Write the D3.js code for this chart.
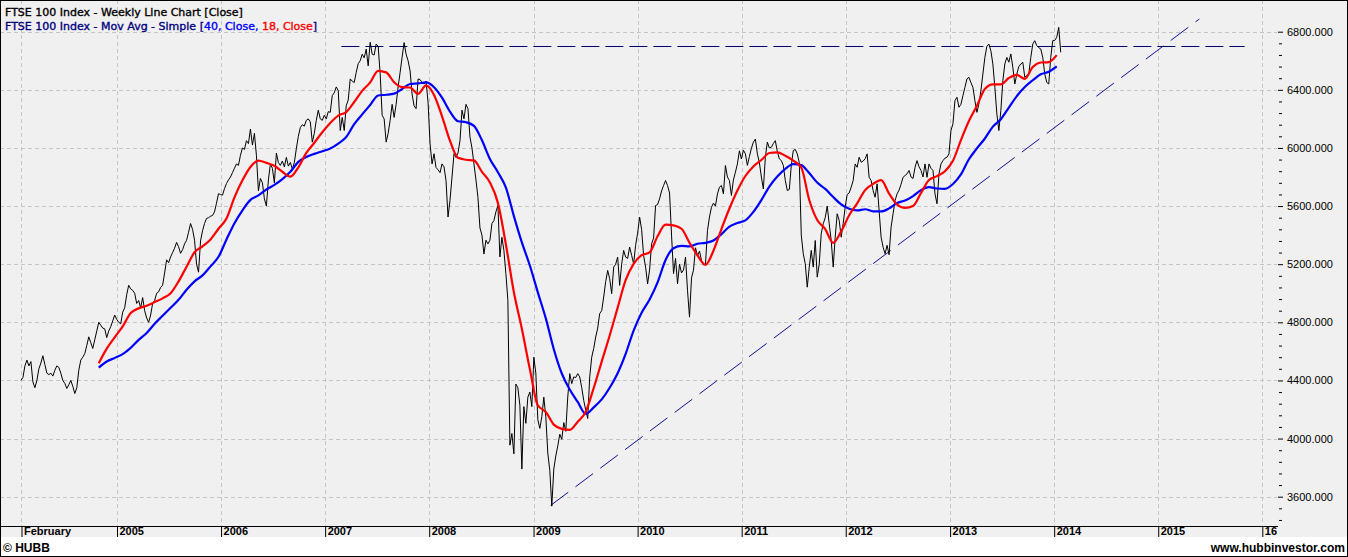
<!DOCTYPE html>
<html>
<head>
<meta charset="utf-8">
<script src="https://cdn.jsdelivr.net/npm/d3@7"></script>
<style>
  body { margin: 0; background: #fff; }
  svg { display: block; }
  text { white-space: pre; }
</style>
</head>
<body>
<svg id="chart" width="1348" height="557"></svg>
<script>
// FTSE 100 weekly closes, one value per week, first week ends 2004-01-30
const firstWeek = "2004-01-30";
const close2004 = [4400,4420,4500,4540,4500,4530,4390,4350,4400,4480,4520,4570,4510,4450,4440,4450,4430,4470,4500,4490,4450,4400,4380,4345,4370,4400,4360,4310,4350,4470,4540,4560,4585,4640,4700,4660,4620,4680,4740,4800,4780,4760,4755,4695,4740,4770,4810,4850,4820];
const close2005 = [4800,4790,4870,4900,4990,5055,5030,5020,5000,4930,4950,4900,4970,4880,4830,4800,4850,4930,4950,5000,5010,5040,5055,5140,5230,5210,5250,5280,5310,5350,5320,5275,5300,5340,5365,5420,5480,5440,5365,5200,5145,5360,5430,5480,5515,5520,5530,5535,5560,5620,5685,5680];
const close2006 = [5675,5720,5755,5780,5800,5830,5860,5890,5880,5950,6000,5990,6050,6030,6130,6020,6100,5950,5705,5790,5760,5650,5600,5780,5890,5860,5760,5965,5900,5880,5910,5870,5935,5875,5900,5855,5900,5995,6080,6140,6160,6150,6190,6200,6180,6040,6100,6190,6260,6200,6190,6225];
const close2007 = [6200,6250,6245,6360,6380,6420,6395,6120,6210,6120,6290,6330,6475,6460,6450,6520,6580,6600,6645,6620,6680,6565,6727,6645,6640,6715,6700,6510,6225,6200,6040,6100,6190,6300,6210,6300,6420,6520,6625,6725,6645,6600,6530,6370,6290,6270,6475,6470,6450,6440,6460,6315];
const close2008 = [6030,5890,5960,5865,5850,5830,5890,5870,5775,5525,5640,5800,5960,5935,5965,6050,6260,6200,6300,6270,6075,6000,5890,5780,5660,5450,5400,5270,5365,5340,5365,5480,5500,5560,5605,5250,5385,5295,5135,4950,3955,4035,3895,4375,4350,4230,3790,4220,4105,4285,4320,4220];
const close2009 = [4560,4450,4130,4070,4150,4285,4150,3900,3780,3535,3790,3880,3950,4030,3995,4110,4050,4286,4447,4378,4424,4420,4447,4424,4350,4263,4195,4138,4424,4560,4620,4699,4760,4860,4880,4974,5080,5157,5100,4997,5180,5200,5249,5054,5200,5295,5249,5240,5318,5261,5203,5330];
const close2010 = [5413,5524,5440,5260,5180,5065,5160,5340,5380,5604,5610,5650,5704,5741,5776,5741,5690,5400,5135,5240,5065,5200,5140,5160,5249,5020,4836,5106,5159,5313,5258,5290,5226,5195,5201,5432,5524,5592,5620,5600,5684,5730,5742,5684,5879,5800,5776,5673,5780,5833,5890,5980,5924];
const close2011 = [5985,5960,5880,5940,5997,6040,6061,5960,5900,5800,5718,5936,6040,6000,6005,6030,6050,5976,5925,5913,5880,5776,5707,5714,5879,5982,5990,5959,5900,5400,5272,5203,5042,5180,5295,5180,5363,5111,5200,5410,5478,5520,5600,5478,5363,5180,5386,5547,5501,5386,5480,5592];
const close2012 = [5680,5690,5730,5776,5890,5867,5936,5902,5910,5925,5959,5798,5776,5707,5661,5753,5570,5386,5317,5272,5330,5265,5455,5547,5638,5684,5710,5750,5798,5810,5822,5845,5800,5790,5867,5913,5870,5845,5800,5890,5798,5890,5860,5845,5684,5616,5822,5890,5913,5930,5936,5959];
const close2013 = [6120,6166,6326,6349,6280,6300,6360,6417,6475,6486,6450,6417,6326,6245,6303,6394,6509,6623,6700,6715,6669,6578,6417,6234,6120,6257,6463,6578,6623,6590,6647,6555,6440,6509,6560,6578,6589,6486,6500,6509,6623,6715,6738,6704,6690,6681,6623,6509,6451,6440,6623,6738];
const close2014 = [6740,6761,6830,6658];

// moving averages every 4th week, starting at week 39
const maFirstWeek = 39;
const maStepWeeks = 4;
const ma40 = [4488,4530,4555,4581,4624,4679,4727,4790,4845,4900,
  4955,5024,5082,5123,5185,5251,5370,5482,5571,5643,
  5674,5714,5746,5786,5836,5904,5937,5959,5977,5996,
  6030,6075,6164,6231,6296,6361,6366,6374,6406,6440,
  6444,6451,6418,6346,6250,6184,6177,6152,6053,5924,
  5833,5727,5531,5350,5191,5006,4827,4615,4448,4338,
  4252,4171,4215,4270,4350,4450,4583,4743,4866,4957,
  5075,5229,5310,5326,5322,5341,5347,5363,5407,5458,
  5484,5502,5560,5641,5734,5803,5856,5889,5882,5827,
  5762,5718,5662,5611,5581,5570,5578,5564,5563,5584,
  5621,5638,5669,5710,5730,5721,5719,5752,5818,5922,
  5997,6065,6147,6198,6278,6357,6419,6466,6507,6524,
  6561];
const ma18 = [4518,4619,4697,4772,4864,4896,4914,4939,4965,5000,
  5082,5183,5282,5323,5370,5444,5514,5660,5777,5869,
  5913,5897,5877,5836,5803,5867,5966,6036,6108,6172,
  6223,6247,6316,6393,6451,6531,6520,6452,6418,6416,
  6372,6431,6365,6218,6049,5932,5919,5914,5836,5763,
  5622,5336,5007,4756,4478,4229,4183,4096,4067,4060,
  4116,4185,4348,4530,4709,4901,5090,5202,5262,5281,
  5392,5472,5467,5444,5348,5260,5195,5293,5442,5583,
  5707,5807,5873,5917,5965,5970,5946,5913,5865,5642,
  5504,5442,5347,5426,5537,5619,5710,5753,5779,5686,
  5611,5587,5600,5690,5779,5806,5840,5912,6054,6185,
  6290,6406,6438,6438,6481,6503,6475,6557,6588,6591,
  6639];

// drawn lines: flat resistance and rising support
const resistance = { value: 6705, from: "2007-02-27", to: "2015-10-31" };
const support = [
  { date: "2009-03-02", value: 3540 },
  { date: "2015-05-25", value: 6887 }
];

const priceTicks = [3600, 4000, 4400, 4800, 5200, 5600, 6000, 6400, 6800];
const timeTicks = ["2004-02-01","2005-01-01","2006-01-01","2007-01-01","2008-01-01","2009-01-01",
  "2010-01-01","2011-01-01","2012-01-01","2013-01-01","2014-01-01","2015-01-01","2016-01-01"];
const timeLabels = ["February","2005","2006","2007","2008","2009","2010","2011","2012","2013","2014","2015","16"];

const svg = d3.select("#chart");
const width = +svg.attr("width");
const height = +svg.attr("height");
const plotRight = 1278;
const plotBottom = 526;
const footerTop = 537;

const parse = d3.utcParse("%Y-%m-%d");
const start = parse(firstWeek);
const closes = [].concat(close2004, close2005, close2006, close2007, close2008,
  close2009, close2010, close2011, close2012, close2013, close2014);
const weekly = closes.map((v, i) => ({ date: d3.utcDay.offset(start, 7 * i), value: v }));
const toSeries = arr => arr.map((v, k) => ({
  date: d3.utcDay.offset(start, 7 * (maFirstWeek + maStepWeeks * k)), value: v }));

const x = d3.scaleUtc()
    .domain([parse("2005-01-01"), parse("2016-01-01")])
    .range([117, 1262.3]);
const y = d3.scaleLinear()
    .domain([3600, 6800])
    .range([496.7, 31.7]);

// backgrounds
svg.append("rect").attr("width", width).attr("height", height).attr("fill", "#f0f0f0");
svg.append("rect").attr("y", footerTop).attr("width", width).attr("height", height - footerTop).attr("fill", "#fff");

svg.append("clipPath").attr("id", "plot")
  .append("rect").attr("width", plotRight).attr("height", plotBottom);

// grid
const grid = svg.append("g").attr("stroke", "#c4c4c4").attr("stroke-dasharray", "4,3")
    .attr("shape-rendering", "crispEdges");
grid.selectAll(".hg").data(priceTicks).enter().append("line")
    .attr("x1", 0).attr("x2", plotRight - 1)
    .attr("y1", d => Math.round(y(d)) + 0.5).attr("y2", d => Math.round(y(d)) + 0.5);
grid.selectAll(".vg").data(timeTicks).enter().append("line")
    .attr("x1", d => Math.round(x(parse(d))) + 0.5).attr("x2", d => Math.round(x(parse(d))) + 0.5)
    .attr("y1", 0).attr("y2", plotBottom);

const plot = svg.append("g").attr("clip-path", "url(#plot)");

// resistance
plot.append("line")
    .attr("x1", x(parse(resistance.from))).attr("x2", x(parse(resistance.to)))
    .attr("y1", Math.round(y(resistance.value)) + 0.5).attr("y2", Math.round(y(resistance.value)) + 0.5)
    .attr("stroke", "#00006e").attr("stroke-width", 1.2).attr("stroke-dasharray", "18,6");

// support trend
plot.append("path")
    .datum(support)
    .attr("d", d3.line().x(d => x(parse(d.date))).y(d => y(d.value)))
    .attr("fill", "none").attr("stroke", "#10108c").attr("stroke-width", 1)
    .attr("stroke-dasharray", "22,9");

// price
plot.append("path")
    .datum(weekly)
    .attr("d", d3.line().x(d => x(d.date)).y(d => y(d.value)))
    .attr("fill", "none").attr("stroke", "#000").attr("stroke-width", 1);

const smooth = d3.line().curve(d3.curveMonotoneX).x(d => x(d.date)).y(d => y(d.value));
plot.append("path")
    .datum(toSeries(ma40))
    .attr("d", smooth)
    .attr("fill", "none").attr("stroke", "#0000ff").attr("stroke-width", 2.2);
plot.append("path")
    .datum(toSeries(ma18))
    .attr("d", smooth)
    .attr("fill", "none").attr("stroke", "#ff0000").attr("stroke-width", 2.2);

// bottom time axis
svg.append("line")
    .attr("x1", 0).attr("x2", plotRight).attr("y1", plotBottom + 0.5).attr("y2", plotBottom + 0.5)
    .attr("stroke", "#000").attr("shape-rendering", "crispEdges");

const xAxis = d3.axisBottom(x)
    .tickValues(timeTicks.map(parse))
    .tickSize(footerTop - plotBottom)
    .tickFormat((d, i) => timeLabels[i]);
const gx = svg.append("g")
    .attr("transform", `translate(0,${plotBottom})`)
    .call(xAxis);
gx.select(".domain").remove();
gx.selectAll(".tick line").attr("stroke", "#000");
gx.selectAll(".tick text")
    .attr("x", 2).attr("y", 9).attr("dy", 0)
    .attr("text-anchor", "start")
    .attr("fill", "#000")
    .attr("font-family", "Liberation Sans, Arial, sans-serif")
    .attr("font-size", 11)
    .attr("font-weight", "bold");

// right price axis
const yAxis = d3.axisRight(y)
    .tickValues(priceTicks)
    .tickSize(5)
    .tickPadding(4)
    .tickFormat(d3.format(".3f"));
const gy = svg.append("g")
    .attr("transform", `translate(${plotRight},0)`)
    .call(yAxis);
gy.select(".domain").remove();
gy.selectAll(".tick line").attr("stroke", "#000");
gy.selectAll(".tick text")
    .attr("fill", "#000")
    .attr("font-family", "Liberation Sans, Arial, sans-serif")
    .attr("font-size", 11);

const minorTicks = d3.range(3440, 6800, 80).filter(v => v % 400 !== 0);
const gm = svg.append("g")
    .attr("transform", `translate(${plotRight + 1},0)`)
    .call(d3.axisRight(y).tickValues(minorTicks).tickSize(3).tickFormat(""));
gm.select(".domain").remove();
gm.selectAll(".tick line").attr("stroke", "#000");

// titles (thin stroke gives the heavier Tahoma look)
const title = svg.append("g")
    .attr("font-family", "DejaVu Sans, sans-serif")
    .attr("font-size", 11)
    .attr("stroke-width", 0.35);
title.append("text").attr("x", 5).attr("y", 16).attr("fill", "#000").attr("stroke", "#000")
    .text("FTSE 100 Index - Weekly Line Chart [Close]");
const sub = title.append("text").attr("x", 5).attr("y", 29.5);
sub.append("tspan").attr("fill", "#000080").attr("stroke", "#000080").text("FTSE 100 Index - Mov Avg - Simple [");
sub.append("tspan").attr("fill", "#0000ff").attr("stroke", "#0000ff").text("40, Close, ");
sub.append("tspan").attr("fill", "#ff0000").attr("stroke", "#ff0000").text("18, Close");
sub.append("tspan").attr("fill", "#000080").attr("stroke", "#000080").text("]");

// footer
const foot = svg.append("g")
    .attr("font-family", "Liberation Sans, Arial, sans-serif")
    .attr("font-size", 12)
    .attr("font-weight", "bold")
    .attr("fill", "#000");
foot.append("text").attr("x", 3).attr("y", 552).text("\u00a9 HUBB");
foot.append("text").attr("x", width - 3).attr("y", 552).attr("text-anchor", "end").text("www.hubbinvestor.com");

// frame
svg.append("rect")
    .attr("x", 0.5).attr("y", 0.5).attr("width", width - 1).attr("height", height - 1)
    .attr("fill", "none").attr("stroke", "#000").attr("shape-rendering", "crispEdges");
</script>
</body>
</html>
